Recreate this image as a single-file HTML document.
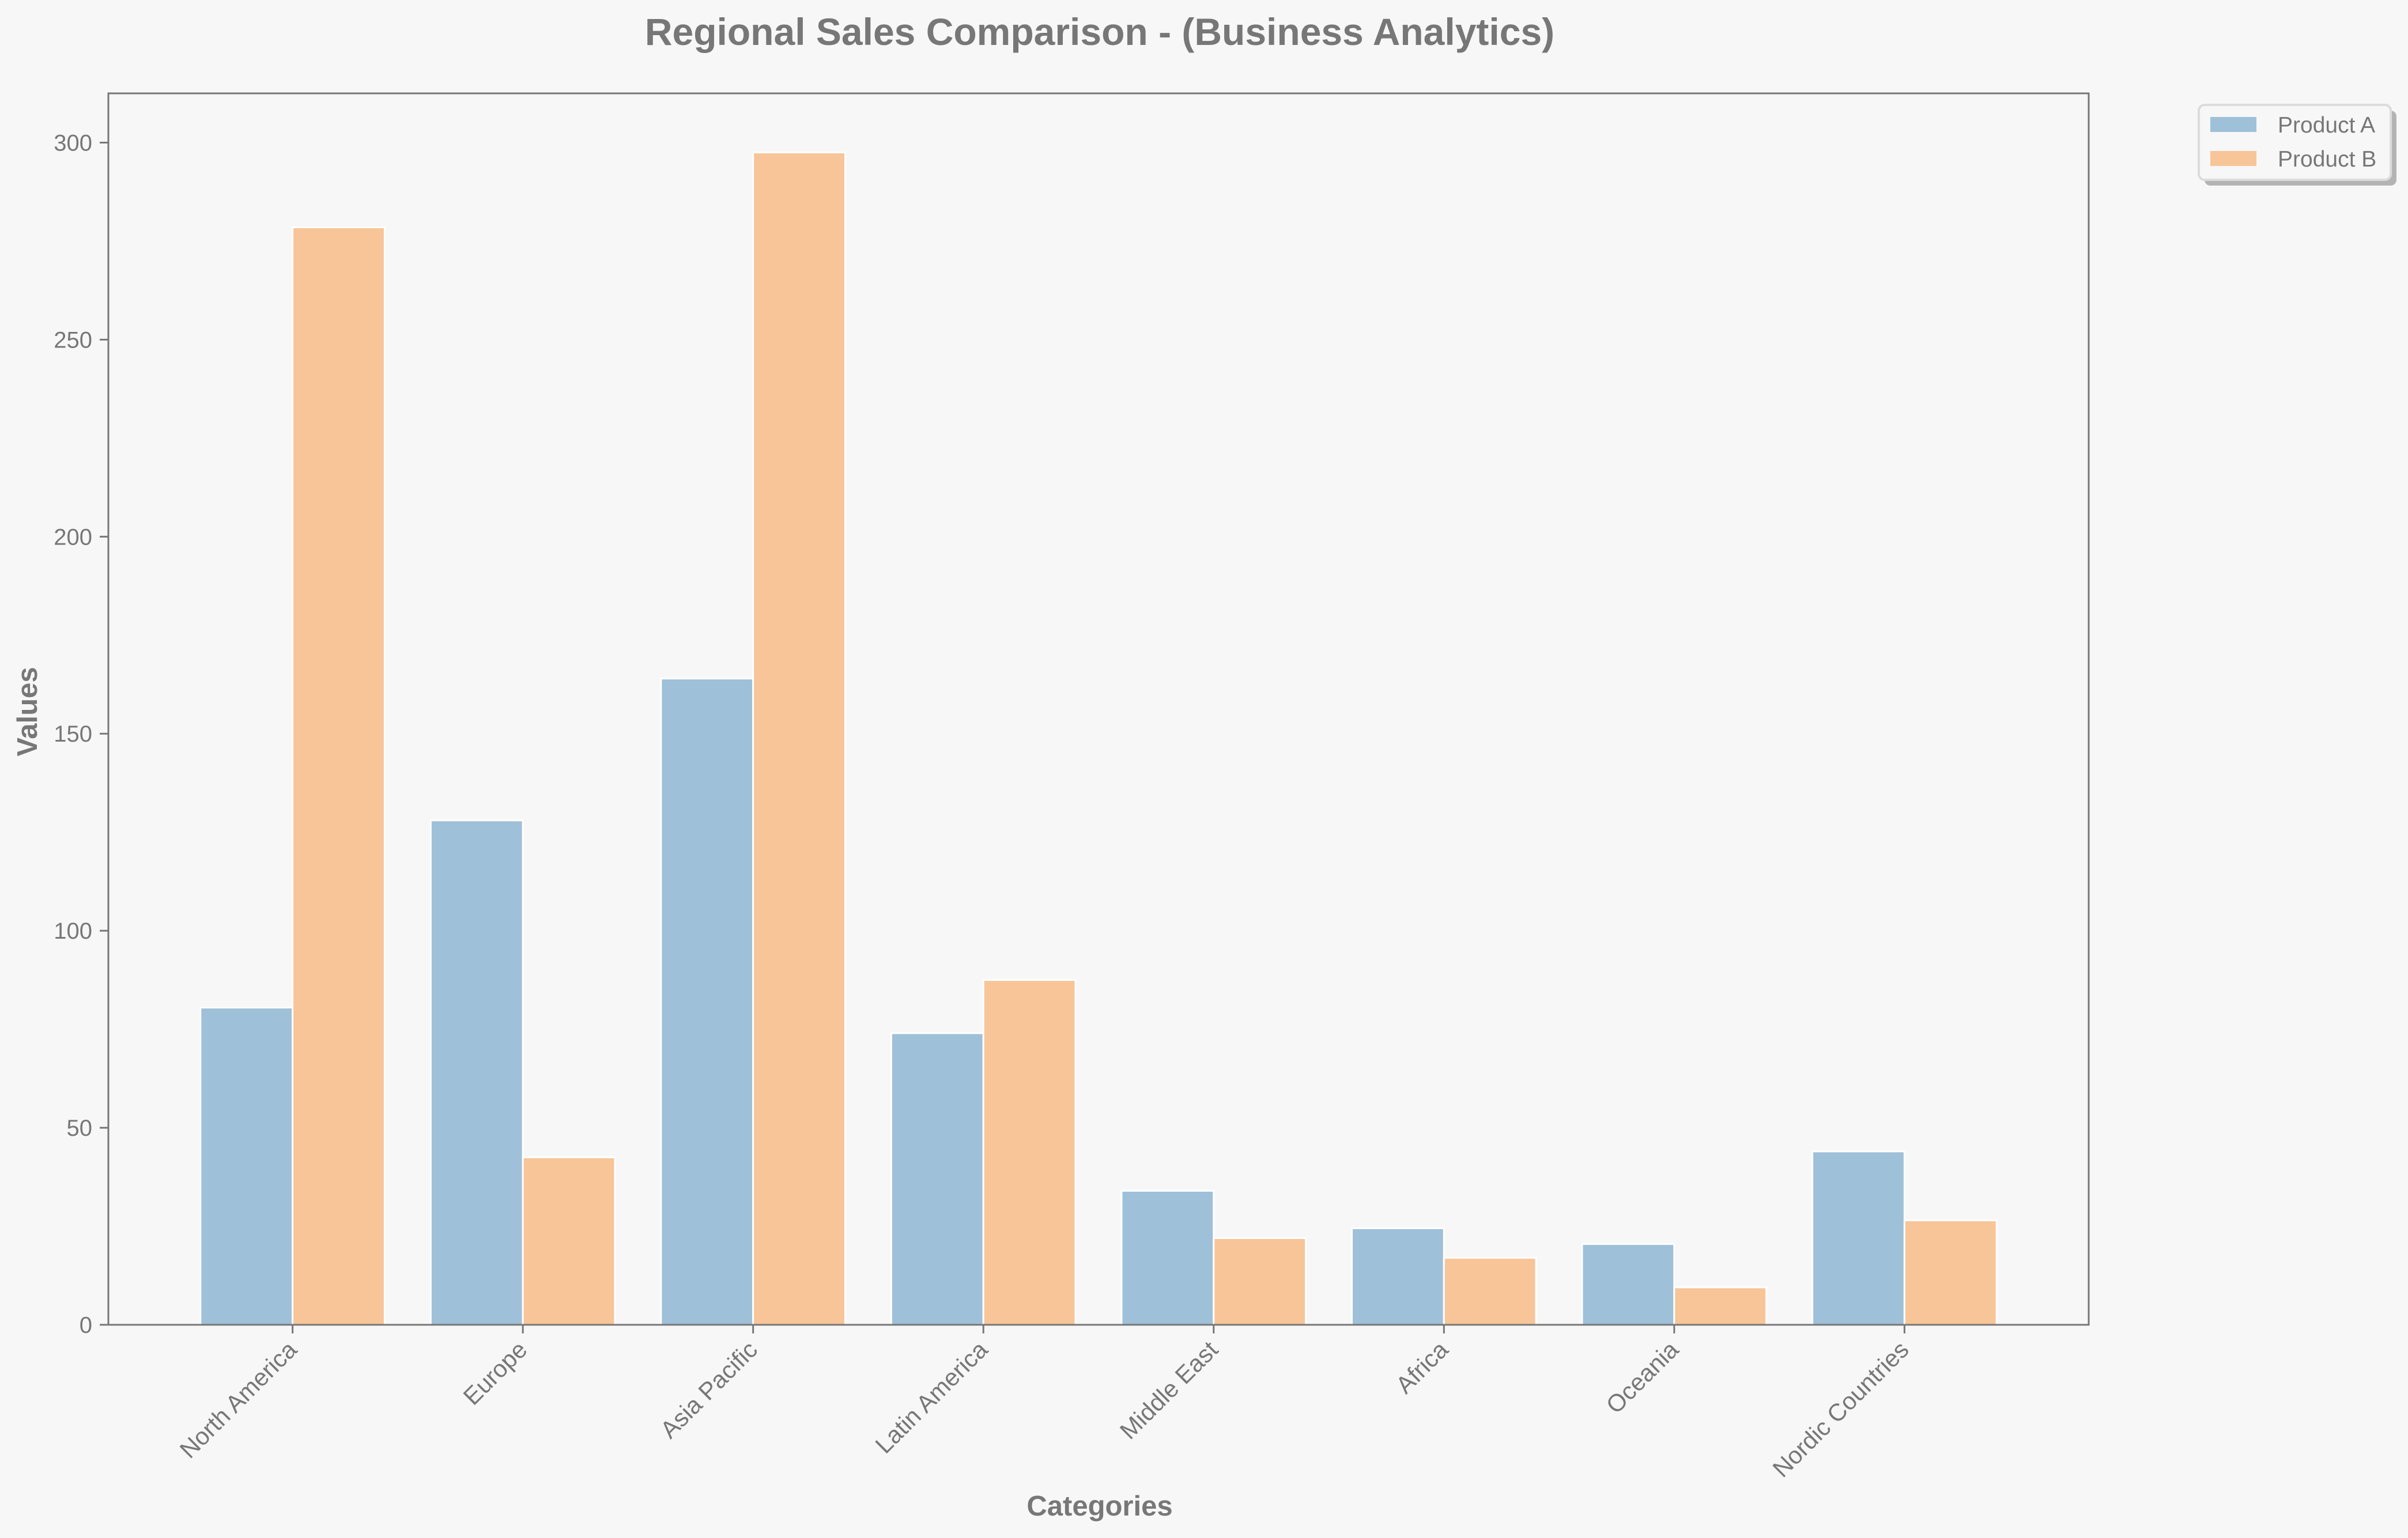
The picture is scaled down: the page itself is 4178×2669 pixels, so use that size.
<!DOCTYPE html>
<html><head><meta charset="utf-8"><style>
html,body{margin:0;padding:0;background:#f7f7f7;}
svg{display:block;font-family:"Liberation Sans",sans-serif;}
</style></head><body>
<svg id="chart" width="4178" height="2669" viewBox="0 0 4178 2669" xmlns="http://www.w3.org/2000/svg">
<rect x="0" y="0" width="4178" height="2669" fill="#f7f7f7"/>
<text x="1908" y="78" text-anchor="middle" font-size="66" font-weight="bold" fill="#777">Regional Sales Comparison - (Business Analytics)</text>
<text x="1908" y="2630" text-anchor="middle" font-size="49" font-weight="bold" fill="#777">Categories</text>
<text transform="translate(64,1235) rotate(-90)" text-anchor="middle" font-size="49" font-weight="bold" fill="#777">Values</text>
<g id="bars"></g>
<g id="axes"></g>
<g>
<rect x="3825" y="192" width="333" height="130" rx="10" fill="#b3b3b3"/>
<rect x="3815" y="182" width="333" height="130" rx="10" fill="#f7f7f7" stroke="#dcdcdc" stroke-width="4"/>
<rect x="3835" y="203" width="80" height="26" fill="#9fc0d9"/>
<text x="3952" y="230" font-size="39" fill="#777">Product A</text>
<rect x="3835" y="262" width="80" height="26" fill="#f7c598"/>
<text x="3952" y="289" font-size="39" fill="#777">Product B</text>
</g>
</svg>
<script>
const categories = ["North America","Europe","Asia Pacific","Latin America","Middle East","Africa","Oceania","Nordic Countries"];
const productA = [80.5, 128, 164, 74, 34, 24.5, 20.5, 44];
const productB = [278.5, 42.5, 297.5, 87.5, 22, 17, 9.5, 26.5];
const yTicks = [0, 50, 100, 150, 200, 250, 300];

const NS = "http://www.w3.org/2000/svg";
const L = 188, R = 3624, T = 162, B = 2299;
const xMin = -0.8, xMax = 7.8, yMin = 0, yMax = 312.5;
function xs(v){ return L + (v - xMin) / (xMax - xMin) * (R - L); }
function ys(v){ return B - (v - yMin) / (yMax - yMin) * (B - T); }
function mk(tag, attrs, parent){
  const e = document.createElementNS(NS, tag);
  for (const k in attrs) e.setAttribute(k, attrs[k]);
  parent.appendChild(e);
  return e;
}
const bars = document.getElementById("bars");
const axes = document.getElementById("axes");
const w = 0.4;
categories.forEach((c, i) => {
  const a = mk("rect", {x: xs(i - w), y: ys(productA[i]), width: xs(i) - xs(i - w), height: ys(0) - ys(productA[i]), fill: "#9fc0d9", stroke: "#ffffff", "stroke-width": 3}, bars);
  
  
  const b = mk("rect", {x: xs(i), y: ys(productB[i]), width: xs(i + w) - xs(i), height: ys(0) - ys(productB[i]), fill: "#f7c598", stroke: "#ffffff", "stroke-width": 3}, bars);
  
  
  const t = mk("line", {x1: xs(i), x2: xs(i), y1: B, y2: B + 15, stroke: "#777", "stroke-width": 3}, axes);
  
  
  const lb = mk("text", {transform: "translate(" + (xs(i) + 10) + "," + (B + 46) + ") rotate(-45)", "text-anchor": "end", "font-size": 42, fill: "#777"}, axes);
  lb.textContent = c;
  
  
});
yTicks.forEach(v => {
  const t = mk("line", {x1: L - 15, x2: L, y1: ys(v), y2: ys(v), stroke: "#777", "stroke-width": 3}, axes);
  
  
  const lb = mk("text", {x: L - 28, y: ys(v) + 14, "text-anchor": "end", "font-size": 40, fill: "#777"}, axes);
  lb.textContent = v;
  
  
});
const frame = mk("rect", {x: L, y: T, width: R - L, height: B - T, fill: "none", stroke: "#777", "stroke-width": 3}, axes);


</script>
</body></html>
